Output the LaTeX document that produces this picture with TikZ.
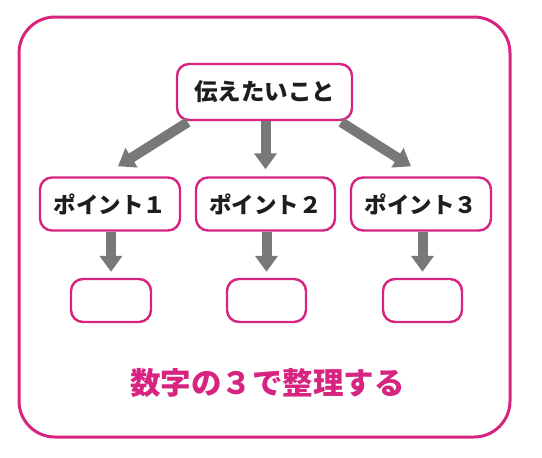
\documentclass[tikz,border=0pt]{standalone}
\usepackage{fontspec}
\newfontfamily\jp{Noto Sans CJK JP}
\usetikzlibrary{arrows.meta,calc}
\definecolor{mag}{RGB}{214,36,128}
\definecolor{arrgray}{RGB}{120,120,120}
\definecolor{txt}{RGB}{30,30,30}
\begin{document}
\begin{tikzpicture}[x=1pt,y=-1pt,
  box/.style={draw=mag,line width=2.4pt,rounded corners=12pt,fill=white,inner sep=0pt,
    font=\jp\bfseries\fontsize{22.5}{26}\selectfont,text=txt},
  arr/.style={draw=arrgray,line width=10pt,-{Triangle[width=22pt,length=16pt]}}]
\useasboundingbox (0,0) rectangle (542,458);
\draw[mag,line width=3pt,rounded corners=36pt] (19,17) rectangle (510,437);
\node[box,minimum width=175pt,minimum height=56pt,font=\jp\bfseries\fontsize{23.5}{26}\selectfont] (top) at (264.5,92) {伝えたいこと};
\node[box,minimum width=140pt,minimum height=53pt] (p1) at (110,204) {ポイント１};
\node[box,minimum width=139pt,minimum height=53pt] (p2) at (265.5,204) {ポイント２};
\node[box,minimum width=140pt,minimum height=53pt] (p3) at (421,204) {ポイント３};
\node[box,minimum width=80pt,minimum height=43pt] (b1) at (111,300.5) {};
\node[box,minimum width=79pt,minimum height=43pt] (b2) at (266.5,300.5) {};
\node[box,minimum width=79pt,minimum height=43pt] (b3) at (422.5,300.5) {};
\coordinate (s1) at ($(top.south west)+(12,1)$);
\coordinate (t1) at ($(p1.north)+(8,-10)$);
\coordinate (s3) at ($(top.south east)+(-12,1)$);
\coordinate (t3) at ($(p3.north)+(-10,-10)$);
\coordinate (t2) at ($(p2.north)+(0,-7)$);
\coordinate (u1) at ($(b1.north)+(0,-6)$);
\coordinate (u2) at ($(b2.north)+(0,-6)$);
\coordinate (u3) at ($(b3.north)+(0,-6)$);
\draw[arr] (s1) -- (t1);
\draw[arr] (t2 |- top.south) -- (t2);
\draw[arr] (s3) -- (t3);
\draw[arr] (u1 |- p1.south) -- (u1);
\draw[arr] (u2 |- p2.south) -- (u2);
\draw[arr] (u3 |- p3.south) -- (u3);
\node[font=\jp\bfseries\fontsize{30.5}{34}\selectfont,text=mag,inner sep=0pt] (title) at (267.5,383) {数字の３で整理する};
\end{tikzpicture}
\end{document}
